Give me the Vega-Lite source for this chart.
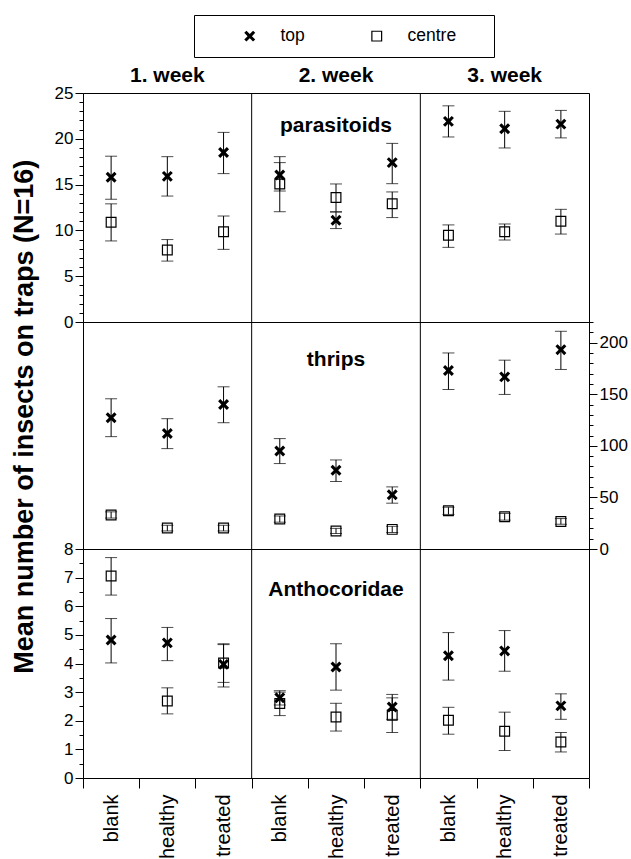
{
 "$schema": "https://vega.github.io/schema/vega-lite/v6.json",
 "padding": {"left": 10, "top": 14, "right": 0, "bottom": 0},
 "datasets": {
  "parasitoids": [
   {"cell":"1. week|blank","series":"top","mean":15.8,"lo":13.4,"hi":18.1},
   {"cell":"1. week|blank","series":"centre","mean":10.9,"lo":8.85,"hi":12.9},
   {"cell":"1. week|healthy","series":"top","mean":15.9,"lo":13.75,"hi":18.05},
   {"cell":"1. week|healthy","series":"centre","mean":7.86,"lo":6.65,"hi":9.0},
   {"cell":"1. week|treated","series":"top","mean":18.5,"lo":16.2,"hi":20.7},
   {"cell":"1. week|treated","series":"centre","mean":9.86,"lo":7.93,"hi":11.57},
   {"cell":"2. week|blank","series":"top","mean":16.05,"lo":14.3,"hi":18.05},
   {"cell":"2. week|blank","series":"centre","mean":15.07,"lo":12.04,"hi":17.4},
   {"cell":"2. week|healthy","series":"top","mean":11.1,"lo":10.2,"hi":12.0},
   {"cell":"2. week|healthy","series":"centre","mean":13.6,"lo":12.04,"hi":15.07},
   {"cell":"2. week|treated","series":"top","mean":17.4,"lo":15.1,"hi":19.5},
   {"cell":"2. week|treated","series":"centre","mean":12.9,"lo":11.4,"hi":14.2},
   {"cell":"3. week|blank","series":"top","mean":21.9,"lo":20.2,"hi":23.6},
   {"cell":"3. week|blank","series":"centre","mean":9.46,"lo":8.15,"hi":10.6},
   {"cell":"3. week|healthy","series":"top","mean":21.1,"lo":19.0,"hi":23.0},
   {"cell":"3. week|healthy","series":"centre","mean":9.86,"lo":8.95,"hi":10.7},
   {"cell":"3. week|treated","series":"top","mean":21.6,"lo":20.1,"hi":23.1},
   {"cell":"3. week|treated","series":"centre","mean":11.0,"lo":9.6,"hi":12.3}
  ],
  "thrips": [
   {"cell":"1. week|blank","series":"top","mean":127.2,"lo":108.9,"hi":145.6},
   {"cell":"1. week|blank","series":"centre","mean":32.9,"lo":30,"hi":36},
   {"cell":"1. week|healthy","series":"top","mean":112,"lo":97.3,"hi":126.3},
   {"cell":"1. week|healthy","series":"centre","mean":20.3,"lo":17.5,"hi":23},
   {"cell":"1. week|treated","series":"top","mean":140.1,"lo":122.4,"hi":157.2},
   {"cell":"1. week|treated","series":"centre","mean":20.3,"lo":17.5,"hi":23},
   {"cell":"2. week|blank","series":"top","mean":95,"lo":82.8,"hi":107},
   {"cell":"2. week|blank","series":"centre","mean":29,"lo":26,"hi":32},
   {"cell":"2. week|healthy","series":"top","mean":76.3,"lo":65.4,"hi":86.3},
   {"cell":"2. week|healthy","series":"centre","mean":17.4,"lo":15,"hi":20},
   {"cell":"2. week|treated","series":"top","mean":52.5,"lo":44.4,"hi":60.2},
   {"cell":"2. week|treated","series":"centre","mean":19,"lo":16,"hi":22},
   {"cell":"3. week|blank","series":"top","mean":173,"lo":154.6,"hi":190},
   {"cell":"3. week|blank","series":"centre","mean":37,"lo":33.5,"hi":40.5},
   {"cell":"3. week|healthy","series":"top","mean":166.8,"lo":149.8,"hi":183},
   {"cell":"3. week|healthy","series":"centre","mean":31.2,"lo":28,"hi":34.5},
   {"cell":"3. week|treated","series":"top","mean":193.2,"lo":174,"hi":211},
   {"cell":"3. week|treated","series":"centre","mean":26.7,"lo":24,"hi":29.5}
  ],
  "anthocoridae": [
   {"cell":"1. week|blank","series":"top","mean":4.82,"lo":4.02,"hi":5.57},
   {"cell":"1. week|blank","series":"centre","mean":7.06,"lo":6.39,"hi":7.7},
   {"cell":"1. week|healthy","series":"top","mean":4.72,"lo":4.1,"hi":5.26},
   {"cell":"1. week|healthy","series":"centre","mean":2.69,"lo":2.24,"hi":3.15},
   {"cell":"1. week|treated","series":"top","mean":3.97,"lo":3.34,"hi":4.66},
   {"cell":"1. week|treated","series":"centre","mean":4.02,"lo":3.18,"hi":4.69},
   {"cell":"2. week|blank","series":"top","mean":2.8,"lo":2.55,"hi":3.05},
   {"cell":"2. week|blank","series":"centre","mean":2.6,"lo":2.18,"hi":3.0},
   {"cell":"2. week|healthy","series":"top","mean":3.88,"lo":3.07,"hi":4.69},
   {"cell":"2. week|healthy","series":"centre","mean":2.13,"lo":1.64,"hi":2.61},
   {"cell":"2. week|treated","series":"top","mean":2.48,"lo":2.05,"hi":2.92},
   {"cell":"2. week|treated","series":"centre","mean":2.19,"lo":1.59,"hi":2.8},
   {"cell":"3. week|blank","series":"top","mean":4.27,"lo":3.42,"hi":5.08},
   {"cell":"3. week|blank","series":"centre","mean":2.02,"lo":1.53,"hi":2.47},
   {"cell":"3. week|healthy","series":"top","mean":4.44,"lo":3.73,"hi":5.15},
   {"cell":"3. week|healthy","series":"centre","mean":1.63,"lo":0.96,"hi":2.3},
   {"cell":"3. week|treated","series":"top","mean":2.52,"lo":2.05,"hi":2.94},
   {"cell":"3. week|treated","series":"centre","mean":1.26,"lo":0.91,"hi":1.59}
  ]
 },
 "title": {"text": "Mean number of insects on traps (N=16)", "orient": "left", "anchor": "middle", "fontSize": 27, "fontWeight": "bold", "color": "black", "offset": 15, "dx": 20},
 "spacing": 0,
 "bounds": "flush",
 "vconcat": [
  {
   "width": 506, "height": 229,
   "data": {"name": "parasitoids"},
   "title": {"text": "parasitoids", "orient": "top", "anchor": "middle", "frame": "group", "offset": -72, "fontSize": 21, "fontWeight": "bold", "color": "black"},
   "resolve": {"axis": {"x": "independent", "y": "independent"}},
   "layer": [
    {"data": {"values": [{"cell": "2. week|blank"}, {"cell": "3. week|blank"}]},
     "mark": {"type": "rule", "color": "black", "strokeWidth": 1},
     "encoding": {"x": {"field": "cell", "type": "nominal", "bandPosition": 0,
       "scale": {"type": "band", "domain": ["1. week|blank","1. week|healthy","1. week|treated","2. week|blank","2. week|healthy","2. week|treated","3. week|blank","3. week|healthy","3. week|treated"], "paddingInner": 0, "paddingOuter": 0},
       "axis": {"orient": "top", "labelExpr": "indexof(datum.label,'healthy') >= 0 ? split(datum.label,'|')[0] : ''", "ticks": false, "domain": false, "labelAngle": 0, "labelFontSize": 21, "labelFontWeight": "bold", "labelPadding": 8, "title": null, "labelOverlap": false}}}},
    {"mark": {"type": "rule", "color": "black", "strokeWidth": 1},
     "encoding": {"x": {"field": "cell", "type": "nominal", "axis": null},
       "y": {"field": "lo", "type": "quantitative", "scale": {"domain": [0, 25], "nice": false},
         "axis": {"title": null, "orient": "left", "values": [0,5,10,15,20,25], "tickSize": 8, "labelPadding": 2, "domain": false, "grid": false, "labelOverlap": false}},
       "y2": {"field": "hi"}}},
    {"mark": {"type": "tick", "orient": "horizontal", "color": "black", "size": 12, "thickness": 1},
     "encoding": {"x": {"field": "cell", "type": "nominal", "axis": null}, "y": {"field": "lo", "type": "quantitative",
       "axis": {"title": null, "orient": "left", "values": [0,1,2,3,4,5,6,7,8,9,10,11,12,13,14,15,16,17,18,19,20,21,22,23,24,25], "tickSize": 4, "labels": false, "domain": false, "grid": false}}}},
    {"mark": {"type": "tick", "orient": "horizontal", "color": "black", "size": 12, "thickness": 1},
     "encoding": {"x": {"field": "cell", "type": "nominal", "axis": null}, "y": {"field": "hi", "type": "quantitative", "axis": null}}},
    {"mark": {"type": "point", "filled": true, "fill": "black", "size": 120, "opacity": 1},
     "encoding": {"x": {"field": "cell", "type": "nominal", "axis": null}, "y": {"field": "mean", "type": "quantitative", "axis": null},
       "shape": {"field": "series", "type": "nominal", "scale": {"domain": ["top", "centre"], "range": ["M-1,-0.6L-0.6,-1L0,-0.4L0.6,-1L1,-0.6L0.4,0L1,0.6L0.6,1L0,0.4L-0.6,1L-1,0.6L-0.4,0Z", "M-1,-1L1,-1L1,1L-1,1Z M-0.78,-0.78L-0.78,0.78L0.78,0.78L0.78,-0.78Z"]},
         "legend": {"orient": "none", "legendX": 111, "legendY": -78, "direction": "horizontal", "title": " ", "titleOrient": "right", "titlePadding": 26, "strokeColor": "black", "padding": 12, "symbolOffset": 35, "labelOffset": 22, "columnPadding": 28, "labelFontSize": 17.5, "symbolSize": 120, "symbolStrokeWidth": 0, "symbolFillColor": "black", "symbolOpacity": 1}}}}
   ]
  },
  {
   "width": 506, "height": 227,
   "data": {"name": "thrips"},
   "title": {"text": "thrips", "orient": "top", "anchor": "middle", "frame": "group", "offset": -48, "fontSize": 21, "fontWeight": "bold", "color": "black"},
   "resolve": {"axis": {"x": "independent", "y": "independent"}},
   "layer": [
    {"data": {"values": [{"cell": "2. week|blank"}, {"cell": "3. week|blank"}]},
     "mark": {"type": "rule", "color": "black", "strokeWidth": 1},
     "encoding": {"x": {"field": "cell", "type": "nominal", "bandPosition": 0, "axis": null,
       "scale": {"type": "band", "domain": ["1. week|blank","1. week|healthy","1. week|treated","2. week|blank","2. week|healthy","2. week|treated","3. week|blank","3. week|healthy","3. week|treated"], "paddingInner": 0, "paddingOuter": 0}}}},
    {"mark": {"type": "rule", "color": "black", "strokeWidth": 1},
     "encoding": {"x": {"field": "cell", "type": "nominal", "axis": null},
       "y": {"field": "lo", "type": "quantitative", "scale": {"domain": [0, 220], "nice": false},
         "axis": {"title": null, "orient": "right", "values": [0,50,100,150,200], "tickSize": 8, "labelPadding": 2, "domain": false, "grid": false, "labelOverlap": false}},
       "y2": {"field": "hi"}}},
    {"mark": {"type": "tick", "orient": "horizontal", "color": "black", "size": 12, "thickness": 1},
     "encoding": {"x": {"field": "cell", "type": "nominal", "axis": null}, "y": {"field": "lo", "type": "quantitative",
       "axis": {"title": null, "orient": "right", "values": [0,10,20,30,40,50,60,70,80,90,100,110,120,130,140,150,160,170,180,190,200,210,220], "tickSize": 4, "labels": false, "domain": false, "grid": false}}}},
    {"mark": {"type": "tick", "orient": "horizontal", "color": "black", "size": 12, "thickness": 1},
     "encoding": {"x": {"field": "cell", "type": "nominal", "axis": null}, "y": {"field": "hi", "type": "quantitative", "axis": null}}},
    {"mark": {"type": "point", "filled": true, "fill": "black", "size": 120, "opacity": 1},
     "encoding": {"x": {"field": "cell", "type": "nominal", "axis": null}, "y": {"field": "mean", "type": "quantitative", "axis": null},
       "shape": {"field": "series", "type": "nominal", "scale": {"domain": ["top", "centre"], "range": ["M-1,-0.6L-0.6,-1L0,-0.4L0.6,-1L1,-0.6L0.4,0L1,0.6L0.6,1L0,0.4L-0.6,1L-1,0.6L-0.4,0Z", "M-1,-1L1,-1L1,1L-1,1Z M-0.78,-0.78L-0.78,0.78L0.78,0.78L0.78,-0.78Z"]}}}}
   ]
  },
  {
   "width": 506, "height": 229,
   "data": {"name": "anthocoridae"},
   "title": {"text": "Anthocoridae", "orient": "top", "anchor": "middle", "frame": "group", "offset": -60, "fontSize": 21, "fontWeight": "bold", "color": "black"},
   "resolve": {"axis": {"x": "independent", "y": "independent"}},
   "layer": [
    {"data": {"values": [{"cell": "2. week|blank"}, {"cell": "3. week|blank"}]},
     "mark": {"type": "rule", "color": "black", "strokeWidth": 1},
     "encoding": {"x": {"field": "cell", "type": "nominal", "bandPosition": 0,
       "scale": {"type": "band", "domain": ["1. week|blank","1. week|healthy","1. week|treated","2. week|blank","2. week|healthy","2. week|treated","3. week|blank","3. week|healthy","3. week|treated"], "paddingInner": 0, "paddingOuter": 0},
       "axis": {"orient": "bottom", "tickBand": "extent", "tickSize": 10, "labelAngle": 270, "labelAlign": "right", "labelBaseline": "middle", "labelFontSize": 20, "labelPadding": 6, "labelExpr": "split(datum.label,'|')[1]", "domain": false, "title": null, "labelOverlap": false}}}},
    {"mark": {"type": "rule", "color": "black", "strokeWidth": 1},
     "encoding": {"x": {"field": "cell", "type": "nominal", "axis": null},
       "y": {"field": "lo", "type": "quantitative", "scale": {"domain": [0, 8], "nice": false},
         "axis": {"title": null, "orient": "left", "values": [0,1,2,3,4,5,6,7,8], "tickSize": 8, "labelPadding": 2, "domain": false, "grid": false, "labelOverlap": false}},
       "y2": {"field": "hi"}}},
    {"mark": {"type": "tick", "orient": "horizontal", "color": "black", "size": 12, "thickness": 1},
     "encoding": {"x": {"field": "cell", "type": "nominal", "axis": null}, "y": {"field": "lo", "type": "quantitative",
       "axis": {"title": null, "orient": "left", "values": [0,0.5,1,1.5,2,2.5,3,3.5,4,4.5,5,5.5,6,6.5,7,7.5,8], "tickSize": 4, "labels": false, "domain": false, "grid": false}}}},
    {"mark": {"type": "tick", "orient": "horizontal", "color": "black", "size": 12, "thickness": 1},
     "encoding": {"x": {"field": "cell", "type": "nominal", "axis": null}, "y": {"field": "hi", "type": "quantitative", "axis": null}}},
    {"mark": {"type": "point", "filled": true, "fill": "black", "size": 120, "opacity": 1},
     "encoding": {"x": {"field": "cell", "type": "nominal", "axis": null}, "y": {"field": "mean", "type": "quantitative", "axis": null},
       "shape": {"field": "series", "type": "nominal", "scale": {"domain": ["top", "centre"], "range": ["M-1,-0.6L-0.6,-1L0,-0.4L0.6,-1L1,-0.6L0.4,0L1,0.6L0.6,1L0,0.4L-0.6,1L-1,0.6L-0.4,0Z", "M-1,-1L1,-1L1,1L-1,1Z M-0.78,-0.78L-0.78,0.78L0.78,0.78L0.78,-0.78Z"]}}}}
   ]
  }
 ],
 "config": {
  "font": "Liberation Sans, Arial, Helvetica, sans-serif",
  "view": {"stroke": "black", "strokeWidth": 1},
  "axis": {"labelFont": "Liberation Sans, Arial, Helvetica, sans-serif", "labelColor": "black", "tickColor": "black", "domainColor": "black", "labelFontSize": 17, "grid": false},
  "title": {"font": "Liberation Sans, Arial, Helvetica, sans-serif", "color": "black"},
  "legend": {"labelFont": "Liberation Sans, Arial, Helvetica, sans-serif", "labelColor": "black", "titleFont": "Liberation Sans, Arial, Helvetica, sans-serif"}
 }
}
